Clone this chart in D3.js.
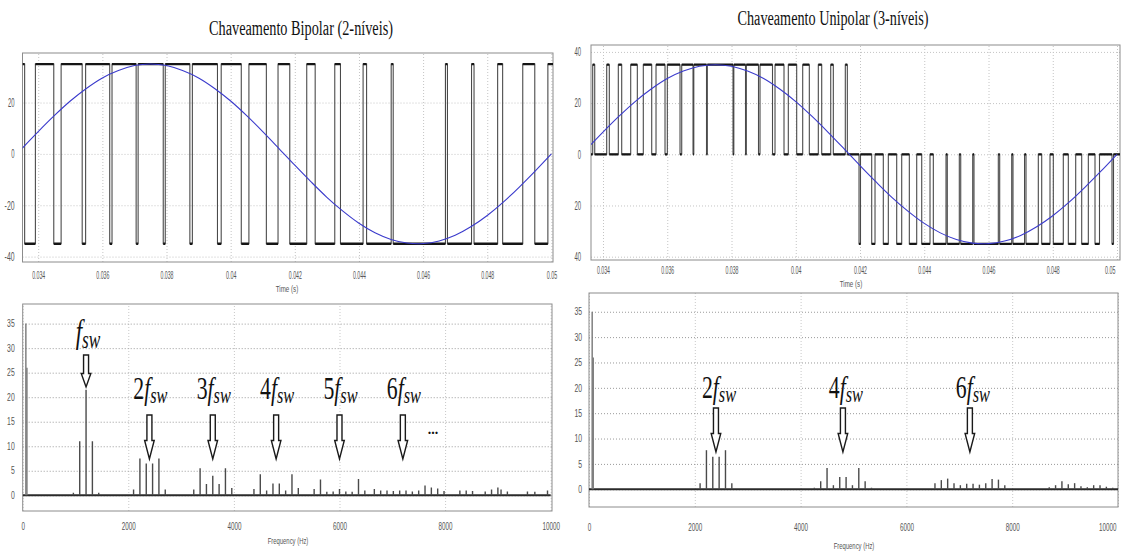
<!DOCTYPE html>
<html>
<head>
<meta charset="utf-8">
<script src="https://cdn.jsdelivr.net/npm/d3@7"></script>
<style>
  body { margin:0; background:#fff; }
  svg { display:block; }
  .title, .math { font-family:'Liberation Serif','Times New Roman',serif; fill:#111; }
  .lbl { font-family:'Liberation Sans',Arial,sans-serif; fill:#555; }
</style>
</head>
<body>
<svg id="chart" width="1130" height="553"></svg>
<script>
// tick values / labels
var timeTicks = [0.034,0.036,0.038,0.04,0.042,0.044,0.046,0.048,0.05];
var bipolarY = [20,0,-20,-40];
var bipolarYLabels = ['20','0','-20','-40'];
var unipolarY = [40,20,0,-20,-40];
var unipolarYLabels = ['40','20','0','20','40'];
var freqTicks = [0,2000,4000,6000,8000,10000];
var magTicks = [0,5,10,15,20,25,30,35];

// PWM levels (V) and switching instants (s)
var vdc = 35;
var bipolarLow = [
  [0.033577,0.033912],[0.034485,0.034714],[0.035371,0.035478],[0.036229,0.036301],
  [0.037053,0.037115],[0.037898,0.037961],[0.038728,0.038806],[0.039589,0.039705],
  [0.040331,0.040569],[0.041113,0.041477],[0.041843,0.042372],[0.042635,0.043246],
  [0.043424,0.044129],[0.044238,0.045005],[0.045068,0.046696],[0.046759,0.04751],
  [0.047588,0.048324],[0.04848,0.049107],[0.049482,0.04989]
];
var unipolarPos = [
  [0.033679,0.033742],[0.034115,0.034196],[0.034476,0.034582],[0.034862,0.035068],
  [0.035254,0.035516],[0.03565,0.03593],[0.036002,0.036397],[0.03645,0.036802],
  [0.036826,0.037222],[0.037247,0.038047],[0.038072,0.038436],[0.038461,0.03884],
  [0.038887,0.039276],[0.039354,0.039634],[0.039768,0.040029],[0.040216,0.040422],
  [0.040702,0.040808],[0.041088,0.041169],[0.041542,0.041605]
];
var unipolarNeg = [
  [0.041969,0.042015],[0.042364,0.042467],[0.042725,0.042881],[0.043142,0.043298],
  [0.043535,0.043765],[0.043921,0.044179],[0.044282,0.044677],[0.044717,0.045091],
  [0.045135,0.045508],[0.045548,0.046305],[0.046348,0.046722],[0.046762,0.047121],
  [0.047167,0.04755],[0.047656,0.047914],[0.048017,0.048328],[0.048484,0.048714],
  [0.048901,0.049107],[0.049315,0.049455],[0.049844,0.049891]
];

// reference (blue) signal
var refT = [0.0335,0.034,0.0345,0.035,0.0355,0.036,0.0365,0.037,0.0375,0.038,0.0385,0.039,
  0.0395,0.04,0.0405,0.041,0.0415,0.042,0.0425,0.043,0.0435,0.044,0.0445,0.045,0.0455,
  0.046,0.0465,0.047,0.0475,0.048,0.0485,0.049,0.0495,0.05];
var refV = [2.2,8.7,14.9,20.6,25.5,29.6,32.5,34.4,35,34.4,32.5,29.6,25.5,20.6,14.9,8.7,2.2,
  -4.4,-10.8,-16.9,-22.3,-27.0,-30.7,-33.3,-34.7,-34.9,-33.9,-31.7,-28.3,-24.0,-18.8,-12.9,-6.6,0];

// spectra
var bipolarFreq = [60,80, 960,1080,1200,1320,1440, 2100,2220,2340,2460,2580,2700,
  3240,3360,3480,3600,3720,3840,3960, 4380,4500,4620,4740,4860,4980,5100,5220,
  5520,5640,5760,5880,6000,6120,6240,6360,6480,
  6660,6780,6900,7020,7140,7260,7380,7500,7620,7740,7860,7980,
  8280,8400,8520,8760,8880,9000,9060,9180, 9560,9700,9940];
var bipolarMag = [35,26, 0.5,11,21.5,11,0.5, 1.2,7.5,6.5,6.5,7.5,1.2,
  1.2,5.5,2.3,4.0,2.3,5.5,1.5, 1.3,4.3,1.0,2.4,2.4,1.0,4.3,1.5,
  1.3,3.2,0.7,0.8,1.3,0.8,0.7,3.3,1.0,
  1.3,1.0,1.0,0.9,1.0,1.0,0.8,1.0,2.0,1.6,1.4,0.9,
  1.0,1.0,0.9,0.8,1.2,1.6,1.2,0.8, 0.8,0.7,1.0];
var unipolarFreq = [60,80, 2100,2220,2340,2460,2580,2700,
  4260,4380,4500,4620,4740,4860,4980,5100,5220,5340,
  6540,6660,6780,6900,7020,7140,7260,7380,7500,7620,7740,7860,
  8700,8820,8940,9060,9180,9300,9420,9540,9660,9780,9900];
var unipolarMag = [35,26, 1.2,7.7,6.4,6.4,7.7,1.2,
  0.3,1.6,4.2,0.8,2.4,2.4,0.8,4.2,1.6,0.3,
  1.2,1.8,2.1,1.2,0.8,1.1,1.1,0.9,1.2,2.0,1.9,0.8,
  0.4,0.8,1.6,1.0,1.2,0.6,0.4,0.8,0.8,0.5,0.3];

// annotated harmonics
var bipolarHarm = [1200,2400,3600,4800,6000,7200];
var bipolarHarmLabels = ['','2','3','4','5','6'];
var unipolarHarm = [2400,4800,7200];
var unipolarHarmLabels = ['2','4','6'];

var svg = d3.select('#chart');
var clipN = 0;

function fitText(sel, perChar){
  sel.attr('textLength',function(){ return this.textContent.length*perChar; })
    .attr('lengthAdjust','spacingAndGlyphs');
}

function panel(o){
  var g = svg.append('g');
  var x = d3.scaleLinear().domain(o.xDomain).range([o.left,o.right]);
  var y = d3.scaleLinear().domain(o.yDomain).range([o.bottom,o.top]);
  var w = o.right-o.left, h = o.bottom-o.top;

  // dotted grid
  var gx = g.append('g').attr('transform','translate(0,'+o.bottom+')')
    .call(d3.axisBottom(x).tickValues(o.xTicks).tickSize(-h).tickFormat(''));
  var gy = g.append('g').attr('transform','translate('+o.left+',0)')
    .call(d3.axisLeft(y).tickValues(o.yTicks).tickSize(-w).tickFormat(''));
  gx.selectAll('line').attr('stroke',o.vGrid).attr('stroke-dasharray','1,2');
  gy.selectAll('line').attr('stroke',o.hGrid).attr('stroke-dasharray','1,2');
  gx.select('.domain').remove(); gy.select('.domain').remove();

  // tick labels
  var ax = g.append('g').attr('transform','translate(0,'+o.bottom+')')
    .call(d3.axisBottom(x).tickValues(o.xTicks).tickSize(0).tickPadding(o.xPad).tickFormat(o.xFormat));
  ax.select('.domain').remove();
  ax.selectAll('text').attr('class','lbl').attr('font-size',o.xFont).call(fitText,o.xChar);
  // keep the last label clear of the page's right edge
  ax.selectAll('text').filter(function(d){ return x(d) > 1110; })
    .attr('text-anchor','end').attr('dx',-2);
  var ay = g.append('g').attr('transform','translate('+o.left+',0)')
    .call(d3.axisLeft(y).tickValues(o.yTicks).tickSize(0).tickPadding(o.yPad)
      .tickFormat(function(d,i){ return o.yLabels ? o.yLabels[i] : d; }));
  ay.select('.domain').remove();
  ay.selectAll('text').attr('class','lbl').attr('font-size',o.yFont).call(fitText,o.yChar);

  g.append('text').attr('class','lbl').attr('x',o.axisX).attr('y',o.axisY)
    .attr('text-anchor','middle').attr('font-size',9).text(o.axisTitle).call(fitText,o.axisChar);

  g.append('rect').attr('x',o.left).attr('y',o.top).attr('width',w).attr('height',h)
    .attr('fill','none').attr('stroke','#8c8c8c');

  var id = 'clip'+(clipN++);
  svg.append('clipPath').attr('id',id).append('rect')
    .attr('x',o.left).attr('y',o.top).attr('width',w).attr('height',h);
  var plot = g.append('g').attr('clip-path','url(#'+id+')');
  return {g:g, plot:plot, x:x, y:y};
}

function stepPoints(domain, base, pulses){
  var pts = [[domain[0],base]];
  pulses.forEach(function(p){
    pts.push([p[0],base],[p[0],p[2]],[p[1],p[2]],[p[1],base]);
  });
  pts.push([domain[1],base]);
  return pts;
}

function drawWave(p, pts){
  var line = d3.line().x(function(d){ return p.x(d[0]); }).y(function(d){ return p.y(d[1]); });
  p.plot.append('path').attr('d',line(pts)).attr('fill','none')
    .attr('stroke','#4a4a4a').attr('stroke-width',1.1);
  var hp = d3.path();
  for(var i=1;i<pts.length;i++){
    if(pts[i][1]===pts[i-1][1] && pts[i][0]>pts[i-1][0]){
      hp.moveTo(p.x(pts[i-1][0]),p.y(pts[i][1]));
      hp.lineTo(p.x(pts[i][0]),p.y(pts[i][1]));
    }
  }
  p.plot.append('path').attr('d',hp.toString()).attr('fill','none')
    .attr('stroke','#151515').attr('stroke-width',2.3);
  var sine = d3.line().curve(d3.curveCardinal)
    .x(function(d){ return p.x(d[0]); }).y(function(d){ return p.y(d[1]); });
  p.plot.append('path').attr('d',sine(d3.zip(refT,refV))).attr('fill','none')
    .attr('stroke','#3b3bcc').attr('stroke-width',1.1);
}

function drawSpectrum(p, freq, mag){
  p.plot.append('line').attr('x1',p.x(0)).attr('x2',p.x(10000))
    .attr('y1',p.y(0)).attr('y2',p.y(0)).attr('stroke','#2a2a2a').attr('stroke-width',2);
  p.plot.selectAll('line.bar').data(d3.zip(freq,mag)).enter().append('line')
    .attr('class','bar')
    .attr('x1',function(d){ return p.x(d[0]); }).attr('x2',function(d){ return p.x(d[0]); })
    .attr('y1',p.y(0)).attr('y2',function(d){ return p.y(d[1]); })
    .attr('stroke',function(d,i){ return i<2 ? '#777' : '#4a4a4a'; })
    .attr('stroke-width',1.4);
}

function mathLabel(g, cx, base, coef, size){
  var t = g.append('text').attr('class','math')
    .attr('transform','translate('+cx+','+base+') scale(0.68,1)')
    .attr('text-anchor','middle').attr('font-size',size);
  if(coef) t.append('tspan').text(coef);
  t.append('tspan').attr('font-style','italic').text('f');
  t.append('tspan').attr('font-style','italic').attr('font-size',size*0.75)
    .attr('dy',size*0.14).text('sw');
}

function arrow(g, cx, top, tip){
  var head = top+(tip-top)*0.58;
  var d = 'M'+(cx-2.5)+','+top+'L'+(cx+2.5)+','+top+'L'+(cx+2.5)+','+head+
    'L'+(cx+4.8)+','+head+'L'+cx+','+tip+'L'+(cx-4.8)+','+head+'L'+(cx-2.5)+','+head+'Z';
  g.append('path').attr('d',d).attr('fill','#fff').attr('stroke','#1a1a1a').attr('stroke-width',1.4);
}

var fmtTime = function(d){ return String(+d.toFixed(3)); };

// titles
svg.append('text').attr('class','title').attr('x',301).attr('y',35).attr('text-anchor','middle')
  .attr('font-size',20).attr('textLength',184).attr('lengthAdjust','spacingAndGlyphs')
  .text('Chaveamento Bipolar (2-níveis)');
svg.append('text').attr('class','title').attr('x',833).attr('y',25).attr('text-anchor','middle')
  .attr('font-size',20).attr('textLength',191).attr('lengthAdjust','spacingAndGlyphs')
  .text('Chaveamento Unipolar (3-níveis)');

// top-left: bipolar PWM
var tl = panel({left:22.5,right:553,top:53,bottom:262,
  xDomain:[0.03351,0.05005], yDomain:[-42.1,39.3],
  xTicks:timeTicks, yTicks:bipolarY, yLabels:bipolarYLabels, xFormat:fmtTime,
  xPad:9, yPad:8, xFont:11, yFont:12, xChar:2.6, yChar:3.3,
  vGrid:'#c4c4c4', hGrid:'#c4c4c4',
  axisTitle:'Time (s)', axisX:287, axisY:292, axisChar:2.8});
drawWave(tl, stepPoints(tl.x.domain(), vdc,
  bipolarLow.map(function(iv){ return [iv[0],iv[1],-vdc]; })));

// top-right: unipolar PWM
var tr = panel({left:591,right:1120,top:45,bottom:260,
  xDomain:[0.033626,0.050093], yDomain:[-41.3,42.7],
  xTicks:timeTicks, yTicks:unipolarY, yLabels:unipolarYLabels, xFormat:fmtTime,
  xPad:6, yPad:10, xFont:11, yFont:12, xChar:2.6, yChar:3.3,
  vGrid:'#c4c4c4', hGrid:'#c4c4c4',
  axisTitle:'Time (s)', axisX:851, axisY:287, axisChar:2.8});
drawWave(tr, stepPoints(tr.x.domain(), 0,
  unipolarPos.map(function(iv){ return [iv[0],iv[1],vdc]; })
    .concat(unipolarNeg.map(function(iv){ return [iv[0],iv[1],-vdc]; }))));

// bottom-left: bipolar spectrum
var bl = panel({left:22.7,right:552,top:304,bottom:511,
  xDomain:[0,10025], yDomain:[-3.2,39],
  xTicks:freqTicks, yTicks:magTicks, xFormat:function(d){ return d; },
  xPad:12, yPad:8, xFont:10, yFont:10, xChar:3.5, yChar:3.8,
  vGrid:'#c8c8c8', hGrid:'#9a9a9a',
  axisTitle:'Frequency (Hz)', axisX:288, axisY:544, axisChar:2.9});
drawSpectrum(bl, bipolarFreq, bipolarMag);
bipolarHarm.forEach(function(f,i){
  var cx = bl.x(f);
  if(i===0){
    mathLabel(bl.g, cx+2, 343, '', 34);
    arrow(bl.g, cx, 355, 387);
  } else {
    mathLabel(bl.g, cx+1, 399, bipolarHarmLabels[i], 32);
    arrow(bl.g, cx, 415, 459);
  }
});
bl.g.append('text').attr('class','math').attr('x',433).attr('y',434).attr('text-anchor','middle')
  .attr('font-size',14).attr('font-weight','bold').text('...');

// bottom-right: unipolar spectrum
var br = panel({left:589,right:1118,top:293,bottom:507,
  xDomain:[0,10000], yDomain:[-3.5,38.7],
  xTicks:freqTicks, yTicks:magTicks, xFormat:function(d){ return d; },
  xPad:17, yPad:7, xFont:10, yFont:10, xChar:3.5, yChar:3.8,
  vGrid:'#c8c8c8', hGrid:'#9a9a9a',
  axisTitle:'Frequency (Hz)', axisX:854, axisY:549, axisChar:2.9});
drawSpectrum(br, unipolarFreq, unipolarMag);
unipolarHarm.forEach(function(f,i){
  var cx = br.x(f);
  mathLabel(br.g, cx+3, 398, unipolarHarmLabels[i], 32);
  arrow(br.g, cx, 408, 452);
});
</script>
</body>
</html>
